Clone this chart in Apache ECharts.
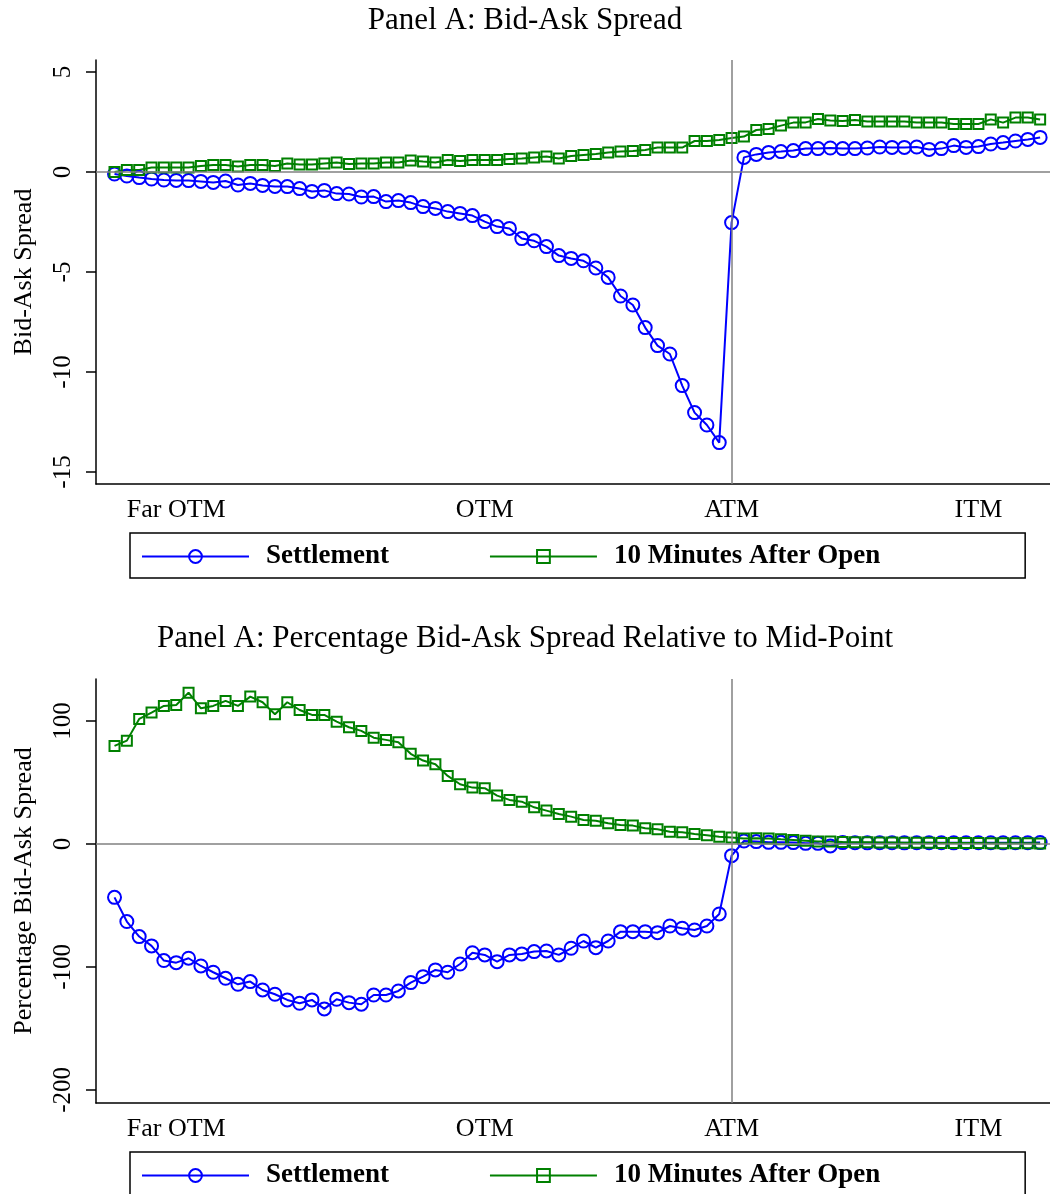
<!DOCTYPE html>
<html>
<head>
<meta charset="utf-8">
<script src="https://cdn.jsdelivr.net/npm/echarts@6/dist/echarts.min.js"></script>
<style>
  html, body { margin: 0; padding: 0; background: #fff; }
  #chart { width: 1050px; height: 1194px; }
</style>
</head>
<body>
<div id="chart"></div>
<script>
// moneyness buckets (index 0..75), ATM sits at index 50
const xTickPos = [5, 30, 50, 70];
const xTickLabels = ['Far OTM', 'OTM', 'ATM', 'ITM'];
const atmIndex = 50;
const yTicksA = [-15, -10, -5, 0, 5];
const yTicksB = [-200, -100, 0, 100];

// Panel A: bid-ask spread
const settleA = [
  -0.1, -0.2, -0.28, -0.35, -0.4, -0.42, -0.43, -0.47, -0.52, -0.45,
  -0.65, -0.57, -0.67, -0.72, -0.73, -0.83, -0.97, -0.92, -1.08, -1.1,
  -1.25, -1.23, -1.48, -1.43, -1.53, -1.73, -1.82, -1.98, -2.07, -2.18,
  -2.48, -2.73, -2.82, -3.33, -3.44, -3.73, -4.18, -4.32, -4.44, -4.8,
  -5.27, -6.2, -6.65, -7.78, -8.68, -9.1, -10.68, -12.03, -12.65, -13.53,
  -2.53, 0.73, 0.88, 0.98, 1.02, 1.07, 1.17, 1.17, 1.2, 1.17,
  1.17, 1.2, 1.25, 1.23, 1.23, 1.25, 1.13, 1.17, 1.32, 1.23,
  1.27, 1.4, 1.47, 1.55, 1.63, 1.73
];
const openA = [
  0.0, 0.1, 0.1, 0.22, 0.23, 0.23, 0.23, 0.3, 0.35, 0.35,
  0.27, 0.35, 0.35, 0.3, 0.43, 0.38, 0.38, 0.43, 0.48, 0.4,
  0.43, 0.43, 0.48, 0.48, 0.58, 0.52, 0.48, 0.6, 0.55, 0.6,
  0.6, 0.6, 0.65, 0.68, 0.73, 0.77, 0.68, 0.8, 0.85, 0.9,
  0.97, 1.02, 1.05, 1.1, 1.23, 1.23, 1.22, 1.55, 1.55, 1.6,
  1.7, 1.77, 2.1, 2.15, 2.32, 2.47, 2.48, 2.65, 2.58, 2.55,
  2.6, 2.52, 2.52, 2.52, 2.52, 2.48, 2.47, 2.47, 2.4, 2.4,
  2.4, 2.63, 2.47, 2.72, 2.73, 2.63
];

// Panel B: percentage spread relative to mid-point
const settleB = [
  -43.4, -63.1, -75.3, -82.9, -94.8, -96.5, -92.9, -99.2, -104.3, -109.2,
  -114.1, -111.9, -118.7, -122.2, -126.8, -129.5, -126.8, -134.1, -126.3, -129,
  -130.3, -122.8, -122.8, -119.5, -112.7, -107.9, -102.4, -104.3, -97.6, -88.4,
  -90.2, -95.7, -90.2, -89.4, -87.5, -87, -90.2, -84.8, -78.9, -84.3,
  -78.9, -71.3, -71.3, -71.3, -72.1, -66.7, -68.5, -69.9, -66.7, -56.9,
  -9.5, 2.4, 1.9, 1.3, 1.3, 1.1, 0.5, 0.5, -1.6, 1.1,
  1.0, 0.9, 1.0, 1.0, 0.9, 1.0, 1.0, 1.0, 0.9, 1.0,
  1.0, 1.0, 0.9, 1.0, 1.0, 1.1
];
const openB = [
  79.7, 84, 101.6, 106.8, 112.2, 113, 123, 110.3, 112.2, 116.3,
  112.2, 119.8, 115.2, 105.4, 115.2, 108.9, 104.9, 104.9, 99.4, 94.9,
  91.9, 86.4, 84.6, 82.7, 73.3, 67.8, 64.8, 55.3, 48.5, 45.8,
  45.3, 39.3, 35.8, 34.4, 29.8, 27.1, 24.4, 22.2, 19.5, 18.9,
  16.8, 15.4, 14.9, 12.7, 11.9, 10, 9.5, 8.1, 7, 5.9,
  5.2, 4.4, 4.6, 4.4, 3.8, 3.3, 2.7, 1.9, 1.9, 1.5,
  1.4, 1.3, 1.2, 1.1, 1.0, 1.0, 0.9, 0.8, 0.8, 0.7,
  0.7, 0.6, 0.6, 0.5, 0.5, 0.4
];

const FONT = 'Liberation Serif';
const BLUE = '#0000ff';
const GREEN = '#008000';

const chart = echarts.init(document.getElementById('chart'));

function dataSeries(name, values, idx, color, symbol, size) {
  return {
    name: name,
    type: 'line',
    xAxisIndex: idx,
    yAxisIndex: idx,
    data: values.map((v, i) => [i, v]),
    symbol: symbol,
    symbolSize: size,
    showAllSymbol: true,
    lineStyle: { color: color, width: 2 },
    itemStyle: { color: 'rgba(255,255,255,0)', borderColor: color, borderWidth: 2 },
    emphasis: { disabled: true },
    z: 3
  };
}

function refLines(idx) {
  return {
    type: 'line',
    xAxisIndex: idx,
    yAxisIndex: idx,
    data: [],
    silent: true,
    z: 1,
    markLine: {
      silent: true,
      symbol: 'none',
      label: { show: false },
      lineStyle: { color: '#808080', width: 1.5, type: 'solid' },
      data: [{ yAxis: 0 }, { xAxis: atmIndex }]
    }
  };
}

function xAxis(idx) {
  return {
    gridIndex: idx,
    type: 'value',
    min: -1.5,
    max: 75.8,
    axisLine: { show: true, onZero: false, lineStyle: { color: '#000', width: 1.5 } },
    axisTick: { show: false },
    splitLine: { show: false },
    axisLabel: {
      customValues: xTickPos,
      formatter: v => xTickLabels[xTickPos.indexOf(v)],
      fontFamily: FONT, fontSize: 26, color: '#000', margin: 13
    }
  };
}

function yAxis(idx, name, min, max, ticks) {
  return {
    gridIndex: idx,
    type: 'value',
    min: min,
    max: max,
    name: name,
    nameLocation: 'middle',
    nameGap: 59,
    nameTextStyle: { fontFamily: FONT, fontSize: 26, color: '#000' },
    axisLine: { show: true, onZero: false, lineStyle: { color: '#000', width: 1.5 } },
    axisTick: { show: true, customValues: ticks, length: 10, lineStyle: { color: '#000', width: 1.5 } },
    splitLine: { show: false },
    axisLabel: {
      customValues: ticks,
      rotate: 90,
      margin: 20,
      fontFamily: FONT, fontSize: 25, color: '#000'
    }
  };
}

function legend(top) {
  return {
    data: ['Settlement', '10 Minutes After Open'],
    left: 130,
    top: top,
    itemWidth: 107,
    itemHeight: 16,
    itemGap: 100,
    padding: [10, 145, 8, 11],
    borderColor: '#000',
    borderWidth: 1.5,
    selectedMode: false,
    textStyle: { fontFamily: FONT, fontWeight: 'bold', fontSize: 27, color: '#000', padding: [0, 0, 0, 12] }
  };
}

const option = {
  animation: false,
  backgroundColor: '#fff',
  color: [BLUE, GREEN],
  title: [
    {
      text: 'Panel A: Bid-Ask Spread',
      left: 'center', top: 5, padding: 0,
      textStyle: { fontFamily: FONT, fontWeight: 'normal', fontSize: 31, color: '#000' }
    },
    {
      text: 'Panel A: Percentage Bid-Ask Spread Relative to Mid-Point',
      left: 'center', top: 623, padding: 0,
      textStyle: { fontFamily: FONT, fontWeight: 'normal', fontSize: 31, color: '#000' }
    }
  ],
  legend: [legend(533), legend(1152)],
  grid: [
    { left: 96, right: 0, top: 60, height: 424 },
    { left: 96, right: 0, top: 679, height: 424 }
  ],
  xAxis: [xAxis(0), xAxis(1)],
  yAxis: [
    yAxis(0, 'Bid-Ask Spread', -15.6, 5.6, yTicksA),
    yAxis(1, 'Percentage Bid-Ask Spread', -210.6, 134.1, yTicksB)
  ],
  series: [
    refLines(0),
    dataSeries('Settlement', settleA, 0, BLUE, 'circle', 13),
    dataSeries('10 Minutes After Open', openA, 0, GREEN, 'rect', 10),
    refLines(1),
    dataSeries('Settlement', settleB, 1, BLUE, 'circle', 13),
    dataSeries('10 Minutes After Open', openB, 1, GREEN, 'rect', 10)
  ]
};

chart.setOption(option);
</script>
</body>
</html>
